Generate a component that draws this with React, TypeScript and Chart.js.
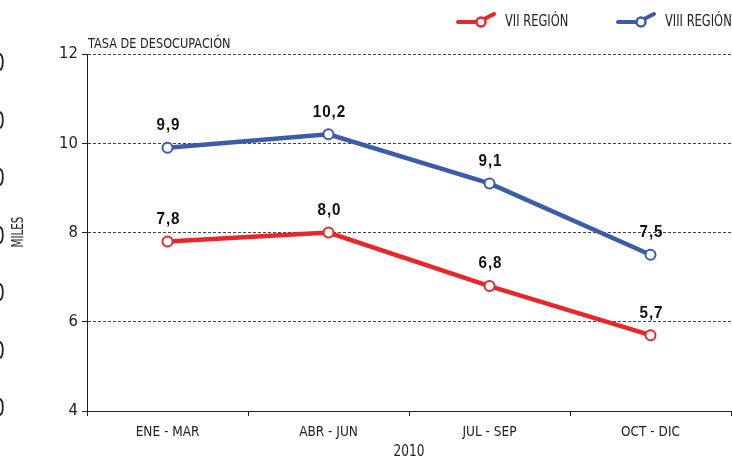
import React, { useEffect, useRef } from 'react';
import { Chart, registerables } from 'chart.js';

Chart.register(...registerables);

const categories = ['ENE - MAR', 'ABR - JUN', 'JUL - SEP', 'OCT - DIC'];
const seriesVII = [7.8, 8.0, 6.8, 5.7];
const seriesVIII = [9.9, 10.2, 9.1, 7.5];
const seriesNames = ['VII REGIÓN', 'VIII REGIÓN'];
const yTickValues = [4, 6, 8, 10, 12];
const xTitle = '2010';
const yTitle = 'MILES';
const chartTitle = 'TASA DE DESOCUPACIÓN';

const RED = '#e8262b';
const BLUE = '#3b5ca8';
const TEXT = '#222222';
const NARROW = "'Liberation Sans Narrow', 'DejaVu Sans Condensed', 'Liberation Sans', sans-serif";
const BOLD = "'Liberation Sans', Arial, sans-serif";

const fmt = (v: number) => v.toFixed(1).replace('.', ',');

// draw text horizontally condensed so it keeps its height but narrows like the reference
function condensedText(ctx: CanvasRenderingContext2D, text: string, x: number, y: number, sx: number) {
  ctx.save();
  ctx.translate(x, y);
  ctx.scale(sx, 1);
  ctx.fillText(text, 0, 0);
  ctx.restore();
}

const overlayPlugin = {
  id: 'overlay',
  afterDraw(chart: any) {
    const ctx = chart.ctx as CanvasRenderingContext2D;
    const area = chart.chartArea;
    ctx.save();

    // cut-off glyphs at the left edge
    ctx.fillStyle = TEXT;
    ctx.font = `24px ${NARROW}`;
    ctx.textAlign = 'right';
    ctx.textBaseline = 'middle';
    for (let i = 0; i < 7; i++) {
      condensedText(ctx, '0', 5, 65 + i * 57.5, 0.85);
    }

    // chart title
    ctx.font = `14.5px ${NARROW}`;
    ctx.textAlign = 'left';
    ctx.textBaseline = 'alphabetic';
    condensedText(ctx, chartTitle, area.left + 1, area.top - 6, 0.87);

    // y title
    ctx.save();
    ctx.translate(19, 232);
    ctx.rotate(-Math.PI / 2);
    ctx.textAlign = 'center';
    ctx.textBaseline = 'middle';
    ctx.font = `16px ${NARROW}`;
    condensedText(ctx, yTitle, 0, 0, 0.72);
    ctx.restore();

    // x title
    ctx.textAlign = 'center';
    ctx.textBaseline = 'middle';
    ctx.font = `15px ${NARROW}`;
    condensedText(ctx, xTitle, (area.left + area.right) / 2, 452, 0.9);

    // data labels
    ctx.font = `bold 16px ${BOLD}`;
    (ctx as any).letterSpacing = '1px';
    chart.data.datasets.forEach((ds: any, di: number) => {
      const meta = chart.getDatasetMeta(di);
      meta.data.forEach((pt: any, i: number) => {
        ctx.fillStyle = '#111';
        ctx.textAlign = 'center';
        ctx.textBaseline = 'middle';
        condensedText(ctx, fmt(ds.data[i]), pt.x + 1, pt.y - 22, 0.95);
      });
    });
    (ctx as any).letterSpacing = '0px';

    // legend
    const colors = [RED, BLUE];
    const starts = [458, 618];
    seriesNames.forEach((name, i) => {
      const x0 = starts[i];
      const y = 22;
      ctx.strokeStyle = colors[i];
      ctx.lineWidth = 4;
      ctx.lineCap = 'round';
      ctx.beginPath();
      ctx.moveTo(x0, y);
      ctx.lineTo(x0 + 18, y);
      ctx.stroke();
      ctx.beginPath();
      ctx.moveTo(x0 + 26, y - 3);
      ctx.lineTo(x0 + 36, y - 8);
      ctx.stroke();
      ctx.beginPath();
      ctx.arc(x0 + 23, y, 4.5, 0, Math.PI * 2);
      ctx.fillStyle = '#fff';
      ctx.fill();
      ctx.lineWidth = 2.5;
      ctx.stroke();
      ctx.fillStyle = TEXT;
      ctx.font = `15px ${NARROW}`;
      ctx.textAlign = 'left';
      ctx.textBaseline = 'middle';
      condensedText(ctx, name, x0 + 47, y, 0.85);
    });

    ctx.restore();
  },
};

export default function App() {
  const ref = useRef<HTMLCanvasElement | null>(null);

  useEffect(() => {
    if (!ref.current) return;
    const chart = new Chart(ref.current, {
      type: 'line',
      data: {
        labels: categories,
        datasets: [
          {
            label: seriesNames[1],
            data: seriesVIII,
            borderColor: BLUE,
            backgroundColor: '#ffffff',
            borderWidth: 4.5,
            pointRadius: 5,
            pointBorderWidth: 2,
            pointBackgroundColor: '#ffffff',
            pointBorderColor: BLUE,
            tension: 0,
          },
          {
            label: seriesNames[0],
            data: seriesVII,
            borderColor: RED,
            backgroundColor: '#ffffff',
            borderWidth: 4.5,
            pointRadius: 5,
            pointBorderWidth: 2,
            pointBackgroundColor: '#ffffff',
            pointBorderColor: RED,
            tension: 0,
          },
        ],
      },
      options: {
        responsive: false,
        animation: false,
        layout: { autoPadding: false, padding: { top: 54, right: 1, left: 0, bottom: 0 } },
        plugins: {
          legend: { display: false },
          tooltip: { enabled: false },
          title: { display: false },
        },
        scales: {
          x: {
            offset: true,
            grid: {
              offset: true,
              drawOnChartArea: false,
              drawTicks: true,
              tickLength: 5,
              color: '#222',
            },
            border: { color: '#222', width: 1 },
            ticks: {
              color: TEXT,
              font: { family: NARROW, size: 13.5 },
              padding: 8,
              maxRotation: 0,
            },
            afterFit: (s: any) => {
              s.height = 47;
              s.paddingRight = 0;
              s.paddingLeft = 0;
            },
          },
          y: {
            min: 4,
            max: 12,
            afterBuildTicks: (s: any) => {
              s.ticks = yTickValues.map((v) => ({ value: v }));
            },
            grid: {
              color: '#444',
              tickColor: '#222',
              tickLength: 5,
              drawTicks: true,
            },
            border: { color: '#222', width: 1, dash: [3, 2] },
            ticks: {
              color: TEXT,
              font: { family: NARROW, size: 16.5 },
              padding: 4,
            },
            afterFit: (s: any) => {
              s.width = 87;
            },
          },
        },
      },
      plugins: [overlayPlugin],
    });
    return () => chart.destroy();
  }, []);

  return (
    <div style={{ position: 'absolute', left: 0, top: 0, width: 732, height: 458, background: '#fff' }}>
      <canvas ref={ref} width={732} height={458} style={{ width: 732, height: 458, display: 'block' }} />
    </div>
  );
}
